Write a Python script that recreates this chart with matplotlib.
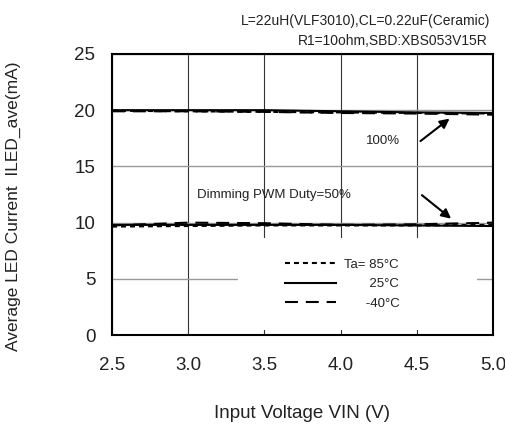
import matplotlib.pyplot as plt
from matplotlib.patches import Rectangle

plt.rcParams['font.family'] = ['Liberation Sans', 'DejaVu Sans']

vin = [2.5, 3.0, 3.5, 4.0, 4.5, 5.0]

# duty 100%
i100_85c = [19.95, 19.9, 19.85, 19.8, 19.75, 19.7]
i100_25c = [20.0, 20.0, 20.0, 19.9, 19.8, 19.75]
i100_m40c = [19.9, 19.9, 19.85, 19.75, 19.7, 19.6]

# duty 50%
i50_85c = [9.65, 9.7, 9.75, 9.75, 9.75, 9.8]
i50_25c = [9.8, 9.8, 9.8, 9.8, 9.75, 9.7]
i50_m40c = [9.75, 10.0, 9.95, 9.8, 9.85, 10.0]

xticks = [2.5, 3.0, 3.5, 4.0, 4.5, 5.0]
yticks = [0, 5, 10, 15, 20, 25]

txt = '#222222'
dot_style = dict(color='black', lw=1.5, dashes=(2.4, 1.9))
solid_style = dict(color='black', lw=1.5)
dash_style = dict(color='black', lw=1.5, dashes=(6.2, 3.8))

fig = plt.figure(figsize=(5.05, 4.28), dpi=100)
ax = fig.add_axes([0.222, 0.217, 0.754, 0.657])

ax.plot(vin, i100_85c, label='Ta= 85°C', **dot_style)
ax.plot(vin, i100_25c, label='       25°C', **solid_style)
ax.plot(vin, i100_m40c, label='      -40°C', **dash_style)
ax.plot(vin, i50_85c, **dot_style)
ax.plot(vin, i50_25c, **solid_style)
ax.plot(vin, i50_m40c, **dash_style)

ax.set_xlim(2.5, 5.0)
ax.set_ylim(0, 25)
ax.set_xticks(xticks)
ax.set_xticklabels([f'{v:.1f}' for v in xticks])
ax.set_yticks(yticks)
ax.tick_params(axis='both', length=0, labelsize=13.5, labelcolor=txt)
ax.tick_params(axis='x', pad=16)
ax.tick_params(axis='y', pad=12)

ax.grid(axis='x', color='#333333', lw=0.8)
ax.grid(axis='y', color='#999999', lw=1.0)
ax.set_axisbelow(True)
for s in ax.spines.values():
    s.set_linewidth(1.5)

ax.set_xlabel('Input Voltage VIN (V)', fontsize=13.5, color=txt, labelpad=22)
ax.set_ylabel('Average LED Current  ILED_ave(mA)', fontsize=12.5, color=txt)
ax.yaxis.set_label_coords(-0.238, 0.46)

ax.text(4.28, 17.3, '100%', fontsize=9.5, color=txt, ha='center', va='center')
ax.text(3.56, 12.5, 'Dimming PWM Duty=50%', fontsize=9.5, color=txt, ha='center', va='center')
arrow = dict(arrowstyle='-|>', color='black', lw=1.5, mutation_scale=14)
ax.annotate('', xy=(4.73, 19.4), xytext=(4.51, 17.1), arrowprops=arrow)
ax.annotate('', xy=(4.74, 10.2), xytext=(4.52, 12.6), arrowprops=arrow)

# white block behind the legend hides the grid there
ax.add_patch(Rectangle((0.331, 0.018), 0.627, 0.327, transform=ax.transAxes,
                       facecolor='white', edgecolor='none', zorder=1.5))
leg = ax.legend(loc='upper left', bbox_to_anchor=(0.454, 0.272), fontsize=9.5,
                handlelength=3.9, handletextpad=0.6, labelspacing=0.55,
                borderpad=0, frameon=False, borderaxespad=0)
for t in leg.get_texts():
    t.set_color(txt)

fig.text(0.970, 0.951, 'L=22uH(VLF3010),CL=0.22uF(Ceramic)', fontsize=10,
         color=txt, ha='right', va='center')
fig.text(0.966, 0.904, 'R1=10ohm,SBD:XBS053V15R', fontsize=10,
         color=txt, ha='right', va='center')

fig.savefig('out.png', dpi=100)
